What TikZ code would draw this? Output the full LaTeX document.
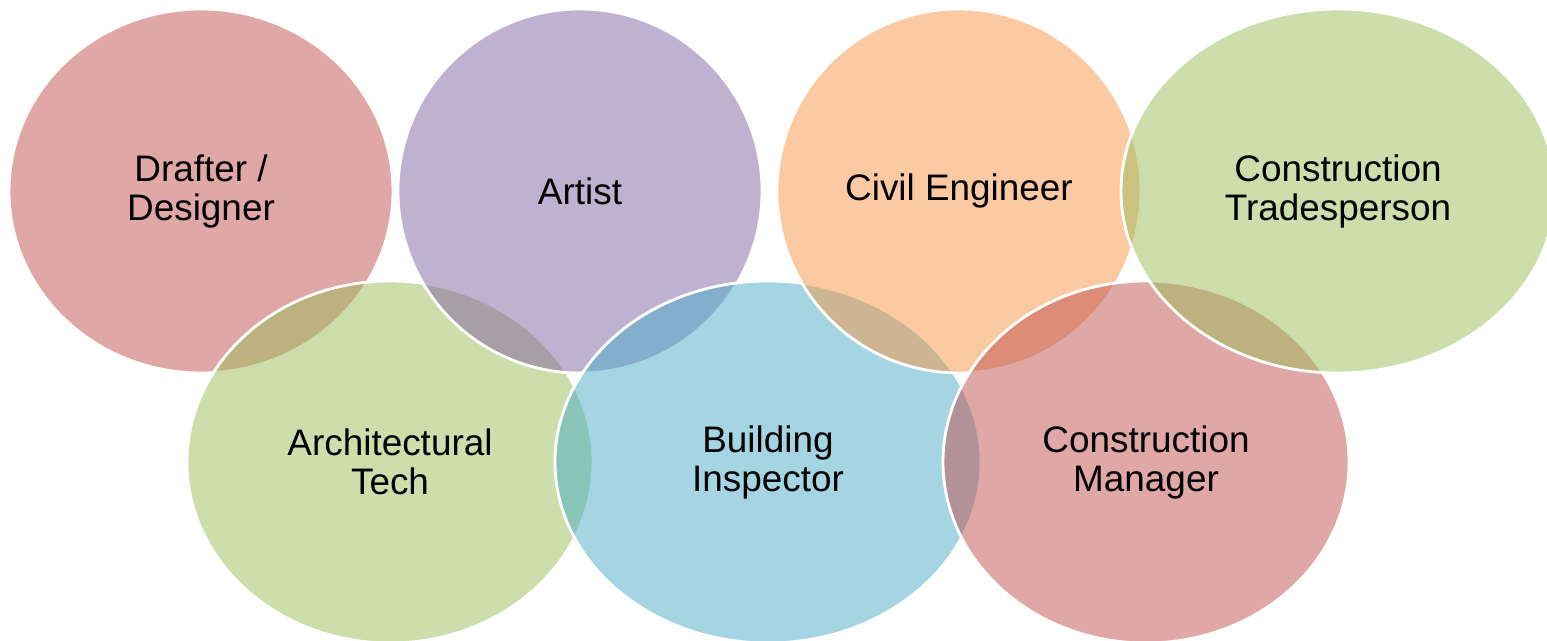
\documentclass[tikz,border=0pt]{standalone}
\usepackage{fontspec}
\setmainfont{Liberation Sans}
\usetikzlibrary{shapes.geometric}
\definecolor{accred}{HTML}{C0504D}
\definecolor{accgreen}{HTML}{9BBB59}
\definecolor{accpurple}{HTML}{8064A2}
\definecolor{accaqua}{HTML}{4BACC6}
\definecolor{accorange}{HTML}{F79646}
\begin{document}
\begin{tikzpicture}[
  ring/.style={ellipse, inner sep=0pt, draw=white, line width=1.6pt,
    fill opacity=0.5, text opacity=1, align=center,
    font=\fontsize{21}{22.2}\selectfont}]
\useasboundingbox (0,0) rectangle (30.94,-12.82);
\clip (0,0) rectangle (30.94,-12.82);

% drawn in zigzag order, top then bottom
\node[ring, fill=accred, minimum width=7.68cm, minimum height=7.28cm] (drafter) at (4.02,-3.82){Drafter /\\Designer};
\node[ring, fill=accgreen, minimum width=8.12cm, minimum height=7.24cm] (archtech) at (7.8,-9.24){Architectural\\Tech};
\node[ring, fill=accpurple, minimum width=7.28cm, minimum height=7.28cm] (artist) at (11.6,-3.82){Artist};
\node[ring, fill=accaqua, minimum width=8.52cm, minimum height=7.24cm] (inspector) at (15.36,-9.24){Building\\Inspector};
\node[ring, fill=accorange, minimum width=7.28cm, minimum height=7.28cm] (civil) at (19.18,-3.82){Civil Engineer};
\node[ring, fill=accred, minimum width=8.12cm, minimum height=7.24cm] (manager) at (22.92,-9.24){Construction\\Manager};
\node[ring, fill=accgreen, minimum width=8.68cm, minimum height=7.28cm] (trades) at (26.76,-3.82){Construction\\Tradesperson};

\end{tikzpicture}
\end{document}
